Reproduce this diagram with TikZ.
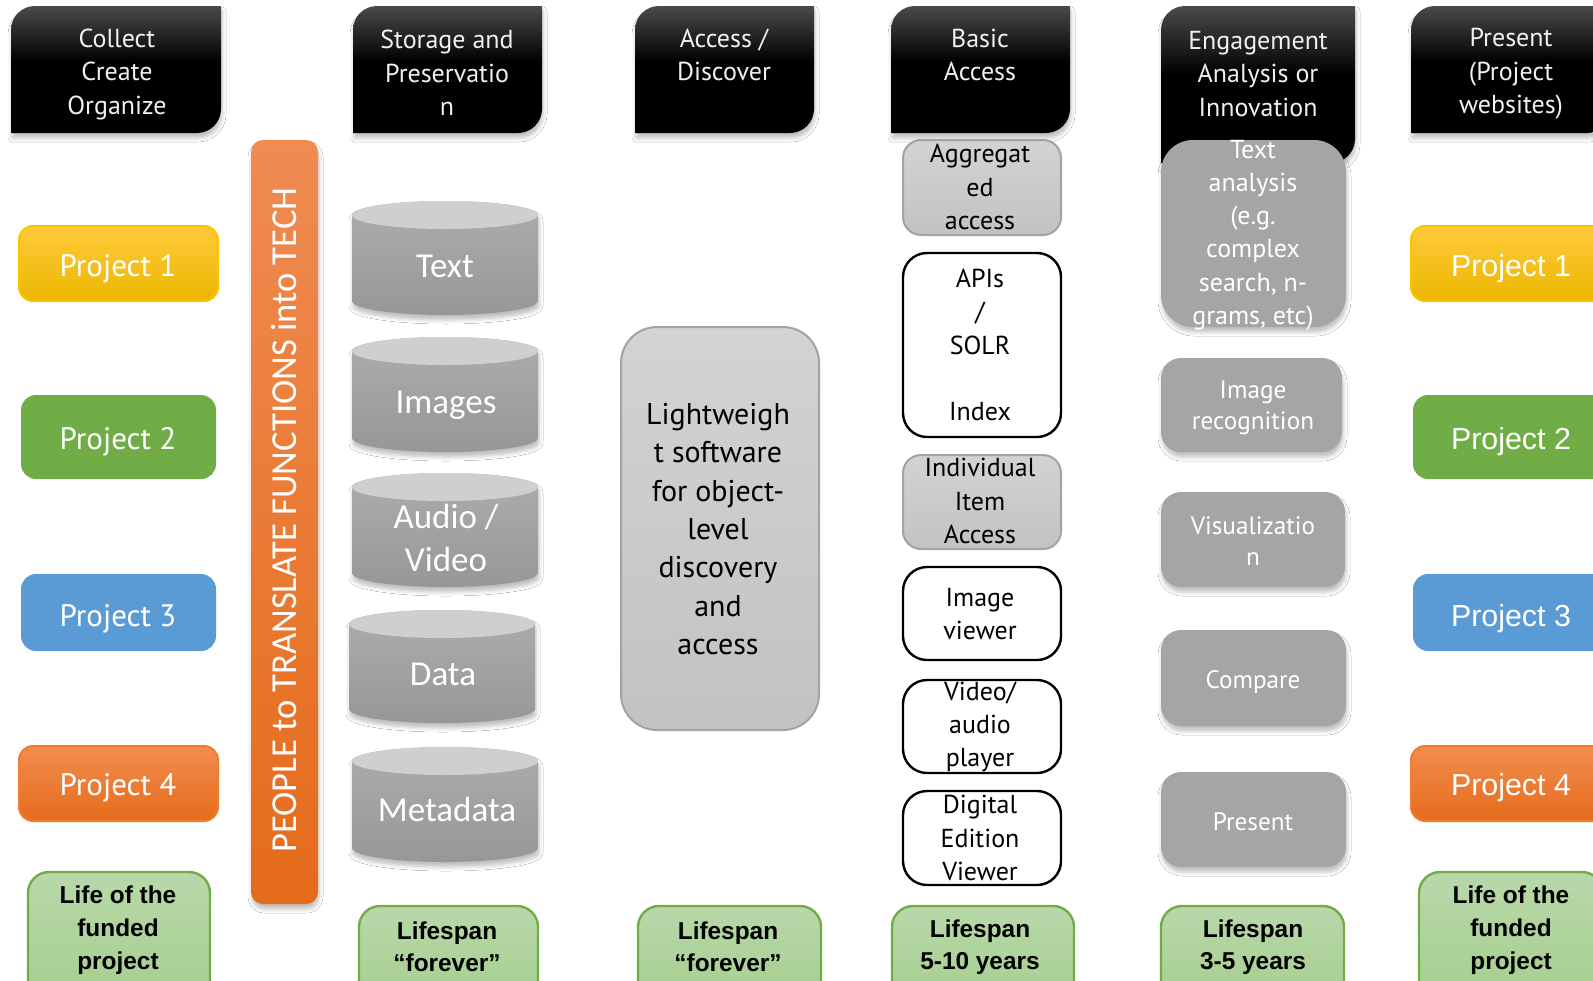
\documentclass[tikz,border=0pt]{standalone}
\usepackage{fontspec}
\setmainfont{PT Sans}
\newfontfamily\arialf{Liberation Sans}
\newfontfamily\calf{Carlito}
\usetikzlibrary{shadows.blur}

\definecolor{hdrtop}{HTML}{4A4A4A}
\definecolor{hdrtext}{HTML}{F0F0F0}
\definecolor{yelT}{HTML}{FFCA3A}
\definecolor{yelB}{HTML}{EBB700}
\definecolor{yelD}{HTML}{FFC000}
\definecolor{grnF}{HTML}{70AD47}
\definecolor{bluF}{HTML}{5B9BD5}
\definecolor{orgT}{HTML}{F28D50}
\definecolor{orgB}{HTML}{E56C1B}
\definecolor{orgD}{HTML}{ED7D31}
\definecolor{barT}{HTML}{F08B52}
\definecolor{barB}{HTML}{E46B1A}
\definecolor{drumT}{HTML}{ADADAD}
\definecolor{drumB}{HTML}{979797}
\definecolor{drumLid}{HTML}{CFCFCF}
\definecolor{liteT}{HTML}{D3D3D3}
\definecolor{liteB}{HTML}{C2C2C2}
\definecolor{liteD}{HTML}{A3A3A3}
\definecolor{engG}{HTML}{A5A5A5}
\definecolor{lifeT}{HTML}{B8D8AA}
\definecolor{lifeB}{HTML}{A5CE8C}
\definecolor{lifeD}{HTML}{70AD47}

% header fill: grey at the top fading to black
\pgfdeclareverticalshading{hdrshade}{100bp}{color(0bp)=(black); color(25bp)=(black); color(53bp)=(black); color(75bp)=(hdrtop); color(100bp)=(hdrtop)}

% box given by its corners (pixel units), drawn as an empty named node
\newcommand\rbox[6]{%
  \pgfmathsetmacro\bw{(#5-#3)*0.5}%
  \pgfmathsetmacro\bh{(#6-#4)*0.5}%
  \node[#1, minimum width=\bw pt, minimum height=\bh pt, inner sep=0pt, outer sep=0pt, anchor=north west] (#2) at (#3,#4) {};}

% black column header: top-left and bottom-right corners rounded
\newcommand\hdrshape[3]{%
  \path[hdrbox] (#1,#3) -- (#1,30) .. controls (#1,16.75) and ({#1+10.75},6) .. ({#1+24},6)
    -- (#2,6) -- (#2,{#3-24}) .. controls (#2,{#3-10.75}) and ({#2-10.75},#3) .. ({#2-24},#3) -- cycle;}

% storage drum
\newcommand\drum[4]{%
  \pgfmathsetmacro\rx{(#3-#1)/2}%
  \path[drumbody] (#1,#2+14) -- (#1,#4-14) arc[start angle=180, end angle=0, x radius=\rx, y radius=14]
    -- (#3,#2+14) arc[start angle=0, end angle=-180, x radius=\rx, y radius=14] -- cycle;
  \path[drumtop] ({(#1+#3)/2},#2+14) ellipse[x radius=\rx, y radius=14];}

\tikzset{
  shadowed/.style={blur shadow={shadow xshift=0.5pt, shadow yshift=-2.5pt, shadow blur radius=2pt, shadow opacity=25}},
  hdrbox/.style={shade, shading=hdrshade, shadowed},
  hdrtxt/.style={text=hdrtext, align=center, inner sep=0pt, font=\fontsize{13}{16.75}\selectfont},
  projbox/.style={rounded corners=7pt, line width=1pt},
  p1/.style={projbox, top color=yelT, bottom color=yelB, draw=yelD},
  p2/.style={projbox, fill=grnF, draw=grnF},
  p3/.style={projbox, fill=bluF, draw=bluF},
  p4/.style={projbox, top color=orgT, bottom color=orgB, draw=orgD},
  projL/.style={text=white, inner sep=0pt, font=\fontsize{15.5}{18}\selectfont},
  projR/.style={text=white, inner sep=0pt, font=\arialf\fontsize{15.2}{18}\selectfont},
  barbox/.style={rounded corners=6pt, top color=barT, bottom color=barB, shadowed},
  bartxt/.style={text=white, inner sep=0pt, rotate=90, font=\calf\fontsize{18.3}{20}\selectfont},
  drumbody/.style={top color=drumT, bottom color=drumB, shadowed},
  drumtop/.style={fill=drumLid},
  drumtxt/.style={text=white, align=center, inner sep=0pt, font=\calf\fontsize{17.5}{21.3}\selectfont},
  litebox/.style={rounded corners=18pt, draw=liteD, line width=1pt, top color=liteT, bottom color=liteB},
  litetxt/.style={align=center, inner sep=0pt, font=\fontsize{15}{19.15}\selectfont},
  aggbox/.style={rounded corners=9pt, draw=liteD, line width=1pt, top color=liteT, bottom color=liteB},
  wbox/.style={rounded corners=12pt, draw=black, line width=1.2pt, fill=white},
  basictxt/.style={align=center, inner sep=0pt, font=\fontsize{13}{16.6}\selectfont},
  engbox/.style={rounded corners=10pt, fill=engG, shadowed},
  engtxt/.style={text=white, align=center, inner sep=0pt, font=\fontsize{13}{16.6}\selectfont},
  engtxtb/.style={engtxt, font=\fontsize{12.6}{15.75}\selectfont},
  lifebox/.style={rounded corners=10.5pt, draw=lifeD, line width=1.2pt, top color=lifeT, bottom color=lifeB},
  lifetxt/.style={align=center, inner sep=0pt, font=\arialf\bfseries\fontsize{12.2}{15.75}\selectfont},
  lifetxtb/.style={lifetxt, font=\arialf\bfseries\fontsize{12.2}{16.5}\selectfont},
}

\begin{document}
\begin{tikzpicture}[x=0.5pt, y=-0.5pt]
\clip (0,0) rectangle (1593,980);
\fill[white] (0,0) rectangle (1593,980);

% ---- column headers
\hdrshape{11}{221}{133}
\hdrshape{353}{542}{133}
\hdrshape{635}{814}{133}
\hdrshape{891}{1070}{133}
\hdrshape{1161}{1355}{163}
\hdrshape{1411}{1611}{133}
\node[hdrtxt] (h-collect) at (117,74) {Collect\\Create\\Organize};
\node[hdrtxt] (h-storage) at (447,73) {Storage and\\Preservatio\\n};
\node[hdrtxt] (h-access) at (724,55) {Access /\\Discover};
\node[hdrtxt] (h-basic) at (980,55) {Basic\\Access};
\node[hdrtxt] (h-engage) at (1258,74) {Engagement\\Analysis or\\Innovation};
\node[hdrtxt] (h-present) at (1511,74) {Present\\(Project\\websites)};

% ---- projects, left
\rbox{p1}{pl1}{19}{226}{218}{301}
\rbox{p2}{pl2}{22}{396}{215}{478}
\rbox{p3}{pl3}{22}{575}{215}{650}
\rbox{p4}{pl4}{19}{746}{218}{821}
\node[projL] (pl1-t) at (118,269) {Project 1};
\node[projL] (pl2-t) at (118,442) {Project 2};
\node[projL] (pl3-t) at (118,619) {Project 3};
\node[projL] (pl4-t) at (118,788) {Project 4};

% ---- projects, right
\rbox{p1}{pr1}{1411}{226}{1615}{301}
\rbox{p2}{pr2}{1414}{396}{1615}{478}
\rbox{p3}{pr3}{1414}{575}{1615}{650}
\rbox{p4}{pr4}{1411}{746}{1615}{821}
\node[projR] (pr1-t) at (1511,269) {Project 1};
\node[projR] (pr2-t) at (1511,442) {Project 2};
\node[projR] (pr3-t) at (1511,619) {Project 3};
\node[projR] (pr4-t) at (1511,788) {Project 4};

% ---- vertical banner
\rbox{barbox}{bar}{251}{140}{318}{904}
\node[bartxt] (bar-t) at (284.5,520) {PEOPLE to TRANSLATE FUNCTIONS into TECH};

% ---- storage drums
\drum{352}{201}{538}{315}
\drum{352}{337}{538}{452}
\drum{352}{473}{538}{587}
\drum{349}{610}{535}{723}
\drum{352}{747}{538}{862}
\node[drumtxt] (d-text) at (445,266) {Text};
\node[drumtxt] (d-images) at (446,405) {Images};
\node[drumtxt] (d-av) at (446,538) {Audio /\\Video};
\node[drumtxt] (d-data) at (443,674) {Data};
\node[drumtxt] (d-meta) at (447,809) {Metadata};

% ---- discovery software
\rbox{litebox}{lite}{621}{327}{819}{730}
\node[litetxt] (lite-t) at (718,529) {Lightweigh\\t software\\for object-\\level\\discovery\\and\\access};

% ---- basic access
\rbox{aggbox}{agg}{903}{140}{1061}{235}
\rbox{wbox}{api}{903}{253}{1061}{437}
\rbox{aggbox}{item}{903}{455}{1061}{549}
\rbox{wbox}{imgv}{903}{567}{1061}{660}
\rbox{wbox}{avp}{903}{680}{1061}{773}
\rbox{wbox}{dev}{903}{791}{1061}{885}
\node[basictxt] (agg-t) at (980,187) {Aggregat\\ed\\access};
\node[basictxt] (api-t) at (980,345) {APIs\\/\\SOLR\\\strut\\Index};
\node[basictxt] (item-t) at (980,501) {Individual\\Item\\Access};
\node[basictxt] (imgv-t) at (980,614) {Image\\viewer};
\node[basictxt] (avp-t) at (980,727) {Video/\\audio\\player};
\node[basictxt] (dev-t) at (980,838) {Digital\\Edition\\Viewer};

% ---- engagement tools
\rbox{engbox, rounded corners=16pt}{txa}{1161}{140}{1346}{327}
\rbox{engbox}{imr}{1161}{358}{1342}{452}
\rbox{engbox}{vis}{1161}{492}{1345}{587}
\rbox{engbox}{cmp}{1161}{630}{1346}{726}
\rbox{engbox}{pre}{1161}{772}{1346}{867}
\node[engtxt] (txa-t) at (1253,235) {Text\\analysis\\(e.g.\\complex\\search, n-\\grams, etc)};
\node[engtxtb] (imr-t) at (1253,408) {Image\\recognition};
\node[engtxtb] (vis-t) at (1253,541) {Visualizatio\\n};
\node[engtxtb] (cmp-t) at (1253,682) {Compare};
\node[engtxtb] (pre-t) at (1253,822) {Present};

% ---- lifespans
\rbox{lifebox}{life1}{28}{872}{210}{1010}
\rbox{lifebox}{life2}{359}{906}{538}{1010}
\rbox{lifebox}{life3}{638}{906}{821}{1010}
\rbox{lifebox}{life4}{892}{906}{1074}{1010}
\rbox{lifebox}{life5}{1161}{906}{1344}{1010}
\rbox{lifebox}{life6}{1419}{872}{1603}{1010}
\node[lifetxtb] (life1-t) at (118,930) {Life of the\\funded\\project};
\node[lifetxt] (life2-t) at (447,947) {Lifespan\\“forever”};
\node[lifetxt] (life3-t) at (728,947) {Lifespan\\“forever”};
\node[lifetxt] (life4-t) at (980,947) {Lifespan\\5-10 years};
\node[lifetxt] (life5-t) at (1253,947) {Lifespan\\3-5 years};
\node[lifetxtb] (life6-t) at (1511,930) {Life of the\\funded\\project};
\end{tikzpicture}
\end{document}
